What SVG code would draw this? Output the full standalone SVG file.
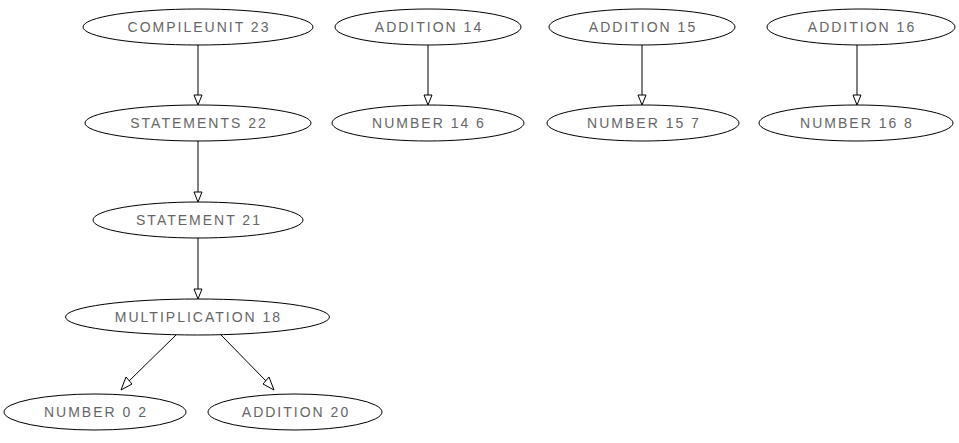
<svg xmlns="http://www.w3.org/2000/svg" width="959" height="443" viewBox="0 0 959 443">
<style>
.n ellipse{fill:none;stroke:#000;stroke-width:1}
.n text{font-family:"Liberation Sans",Arial,sans-serif;font-size:14px;letter-spacing:2px;text-anchor:middle;fill:#666}
.e line{stroke:#000;stroke-width:1}
.e polygon{fill:#fff;stroke:#000;stroke-width:1}
</style>
<rect width="959" height="443" fill="#fff"/>
<g class="e" id="edges">
<line x1="198" y1="45" x2="198" y2="95"/><polygon points="194,95 202,95 198,105"/>
<line x1="198" y1="141" x2="198" y2="192"/><polygon points="194,192 202,192 198,202"/>
<line x1="198" y1="238" x2="198" y2="289"/><polygon points="194,289 202,289 198,299"/>
<line x1="176" y1="335" x2="129" y2="381"/><polygon points="126,377 132,384 121,390"/>
<line x1="221" y1="335" x2="266" y2="381"/><polygon points="263,384 269,377 274,390"/>
<line x1="428" y1="45" x2="428" y2="95"/><polygon points="424,95 432,95 428,105"/>
<line x1="642" y1="45" x2="642" y2="95"/><polygon points="638,95 646,95 642,105"/>
<line x1="857" y1="45" x2="857" y2="95"/><polygon points="853,95 861,95 857,105"/>
</g>
<g class="n" id="compileunit23"><ellipse cx="198" cy="27" rx="115" ry="18"/><text x="199" y="32">COMPILEUNIT 23</text></g>
<g class="n" id="statements22"><ellipse cx="198" cy="123" rx="113" ry="18"/><text x="199" y="128">STATEMENTS 22</text></g>
<g class="n" id="statement21"><ellipse cx="198" cy="220" rx="105" ry="18"/><text x="199" y="225">STATEMENT 21</text></g>
<g class="n" id="multiplication18"><ellipse cx="197.5" cy="317" rx="132" ry="18"/><text x="198.5" y="322">MULTIPLICATION 18</text></g>
<g class="n" id="number02"><ellipse cx="95" cy="412" rx="91" ry="18"/><text x="96" y="417">NUMBER 0 2</text></g>
<g class="n" id="addition20"><ellipse cx="295" cy="412" rx="87" ry="18"/><text x="296" y="417">ADDITION 20</text></g>
<g class="n" id="addition14"><ellipse cx="428" cy="27" rx="93" ry="18"/><text x="429" y="32">ADDITION 14</text></g>
<g class="n" id="number146"><ellipse cx="428" cy="123" rx="96" ry="18"/><text x="429" y="128">NUMBER 14 6</text></g>
<g class="n" id="addition15"><ellipse cx="642" cy="27" rx="93" ry="18"/><text x="643" y="32">ADDITION 15</text></g>
<g class="n" id="number157"><ellipse cx="643" cy="123" rx="96" ry="18"/><text x="644" y="128">NUMBER 15 7</text></g>
<g class="n" id="addition16"><ellipse cx="861" cy="27" rx="94" ry="18"/><text x="862" y="32">ADDITION 16</text></g>
<g class="n" id="number168"><ellipse cx="856" cy="123" rx="97" ry="18"/><text x="857" y="128">NUMBER 16 8</text></g>
</svg>
